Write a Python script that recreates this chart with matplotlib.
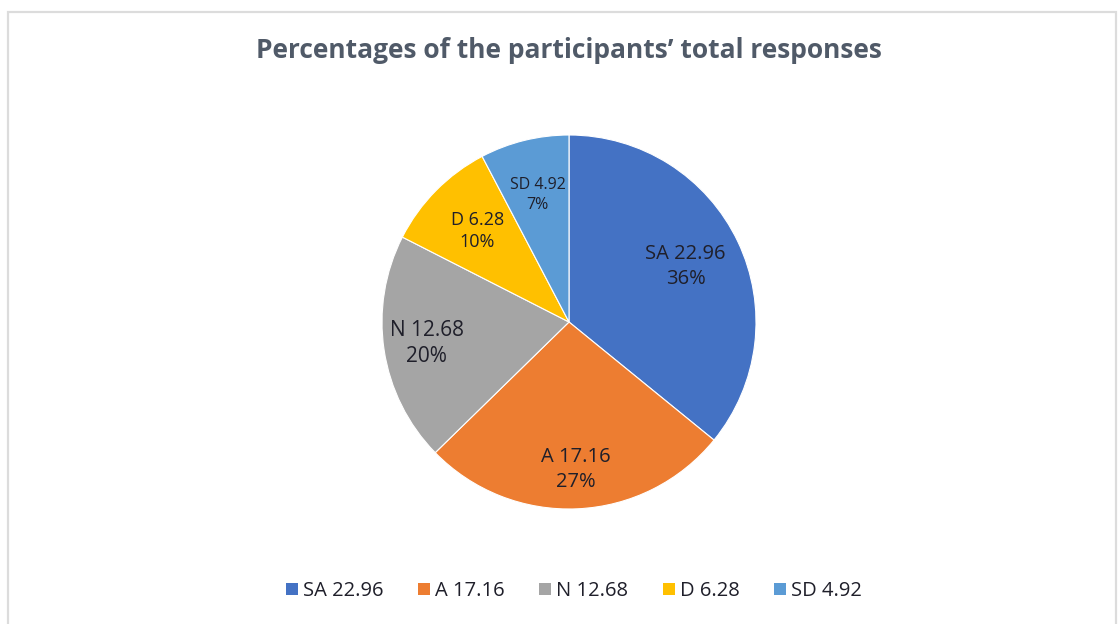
import numpy as np
import matplotlib.pyplot as plt
from matplotlib.patches import Rectangle, Patch

plt.rcParams['font.family'] = ['Open Sans', 'DejaVu Sans']

categories = ['SA', 'A', 'N', 'D', 'SD']
values = [22.96, 17.16, 12.68, 6.28, 4.92]
pct_labels = ['36%', '27%', '20%', '10%', '7%']
colors = ['#4472C4', '#ED7D31', '#A5A5A5', '#FFC000', '#5B9BD5']
label_r = [0.69, 0.79, 0.77, 0.69, 0.70]
label_fs = [14.5, 14.5, 15, 13, 11.5]

W, H = 1118, 624
fig = plt.figure(figsize=(W / 100, H / 100), dpi=100)
fig.patch.set_facecolor('white')

# light frame of the original chart box
fig.patches.append(Rectangle((8 / W, -0.1), (1116 - 8) / W, 1.1 - 12 / H,
                             transform=fig.transFigure, fill=False,
                             edgecolor='#dcdcdc', linewidth=1.6))

cx, cy, r = 569, 322, 187
ax = fig.add_axes([(cx - r) / W, 1 - (cy + r) / H, 2 * r / W, 2 * r / H])
wedges, _ = ax.pie(values, colors=colors, startangle=90, counterclock=False,
                   wedgeprops=dict(edgecolor='white', linewidth=0.8))
ax.set_xlim(-1, 1)
ax.set_ylim(-1, 1)
ax.set_aspect('equal')
ax.axis('off')

for w, cat, v, p, lr, fs in zip(wedges, categories, values, pct_labels, label_r, label_fs):
    ang = np.deg2rad((w.theta1 + w.theta2) / 2)
    ax.text(lr * np.cos(ang), lr * np.sin(ang), f'{cat} {v:.2f}\n{p}',
            ha='center', va='center', fontsize=fs, color='#1f1f2a',
            linespacing=1.3)

fig.text(569 / W, 1 - 51 / H, 'Percentages of the participants\u2019 total responses',
         ha='center', va='center', fontsize=19, fontweight='bold', color='#505a68')

handles = [Patch(facecolor=c, edgecolor='none') for c in colors]
labels = [f'{c} {v:.2f}' for c, v in zip(categories, values)]
fig.legend(handles, labels, loc='center', bbox_to_anchor=(574 / W, 1 - 591 / H),
           ncol=5, frameon=False, fontsize=14.5, handlelength=0.6, handleheight=0.6,
           handletextpad=0.25, columnspacing=1.7, labelcolor='#1f1f2a')

fig.savefig('out.png', dpi=100)
